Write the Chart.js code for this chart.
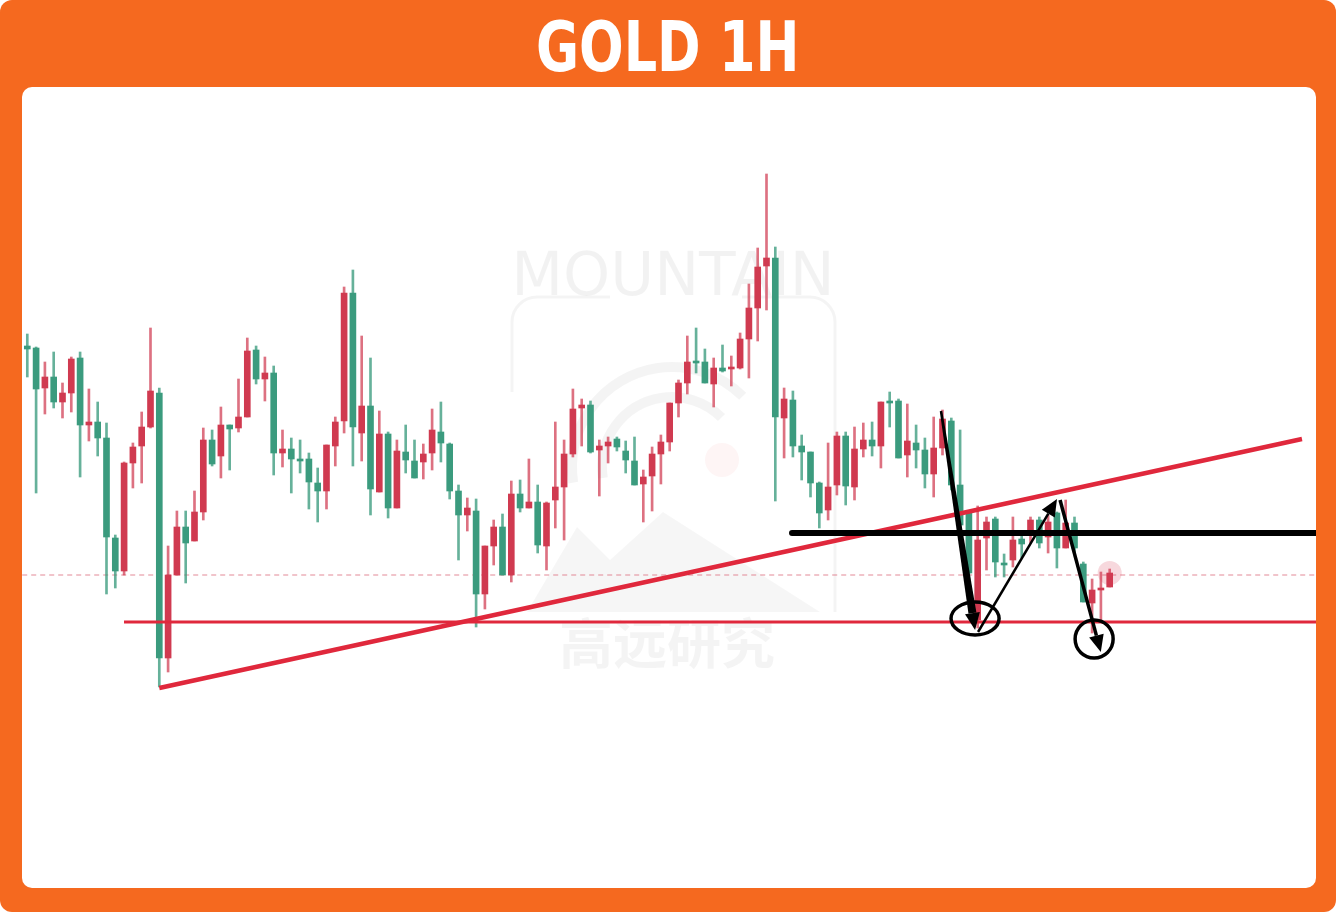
<!DOCTYPE html>
<html><head><meta charset="utf-8">
<script src="https://cdn.jsdelivr.net/npm/chart.js@4.4.0/dist/chart.umd.min.js"></script>
<style>
html,body{margin:0;padding:0;background:#fff;}
#frame{position:absolute;left:0;top:0;width:1336px;height:912px;background:#f5691f;border-radius:12px;}
#title{position:absolute;left:0;top:6px;width:1336px;height:87px;line-height:80px;text-align:center;}
#title span{display:inline-block;color:#fff;font:bold 70px 'DejaVu Sans',sans-serif;transform:scaleX(0.75);transform-origin:center;}
#panel{position:absolute;left:22px;top:87px;width:1294px;height:801px;background:#fff;border-radius:10px;overflow:hidden;}
canvas{display:block;}
</style></head>
<body>
<div id="frame"><div id="title"><span>GOLD 1H</span></div><div id="panel"><canvas id="c" width="1294" height="801"></canvas></div></div>
<script>
// Hourly candles (relative price units)
const opens = [651,611,623,598,607,641,575,578,562,463,429,537,553,573,609,342,425,473,457,488,
560,536,575,571,583,649,621,627,547,551,541,539,518,509,555,578,707,573,594,511,
566,492,549,540,522,546,570,557,509,485,492,406,454,473,425,506,492,498,455,497,
513,546,591,595,548,554,558,553,540,515,523,546,558,597,617,638,637,617,632,629,
633,661,692,733,742,583,601,554,548,517,487,513,564,514,551,560,554,598,597,542,
559,550,526,552,581,515,475,427,460,478,438,435,460,456,480,457,478,452,477,452,
398,410,412,427];
const highs = [666,653,638,648,617,643,648,611,598,577,465,538,557,588,672,612,454,489,489,509,
572,570,593,575,621,662,654,643,634,570,562,560,547,532,555,583,713,730,664,642,
589,568,560,575,560,556,591,598,557,515,502,501,454,480,486,519,520,541,515,498,
578,560,611,601,599,560,563,563,559,563,530,553,565,597,620,664,672,651,642,655,
644,667,716,752,826,753,612,609,565,548,518,557,568,568,573,577,578,598,608,601,
596,575,562,583,590,582,570,489,494,483,483,446,483,465,483,483,485,488,500,483,
438,421,428,431];
const lows = [623,507,586,592,582,588,523,559,544,406,412,425,512,517,572,313,328,425,417,459,
480,534,522,530,568,583,616,599,525,533,507,527,491,478,491,534,567,534,539,485,
508,482,492,527,522,521,530,538,501,440,469,373,391,435,425,418,488,492,447,430,
472,460,543,554,547,504,537,549,527,515,478,489,516,549,583,606,627,617,593,628,
614,631,622,659,690,499,542,543,520,503,472,480,505,495,500,543,544,532,573,542,
523,532,512,503,545,510,470,420,372,430,423,423,433,442,457,452,447,432,452,447,
398,367,380,413];
const closes = [654,652,612,623,598,607,642,575,578,562,462,429,537,554,573,607,342,425,473,459,
488,560,544,575,572,583,650,621,627,547,551,541,541,517,509,554,579,707,567,594,
508,566,492,548,539,538,547,568,556,509,485,489,406,454,473,425,506,492,498,454,
500,513,546,592,595,550,554,561,549,539,516,524,546,558,597,617,638,638,616,632,
631,632,661,692,734,742,582,600,554,548,517,490,515,564,513,551,560,554,598,599,
545,557,550,526,552,579,515,487,380,462,481,437,440,461,468,480,463,487,452,477,
436,397,410,413];

// Drawn levels (price units) and trend line anchors (candle index, price)
const supportLevel = 378;
const dashedLevel = 425;
const resistanceLevel = 467;
const trendStart = {x: 15, y: 312};
const trendEnd = {x: 144.85, y: 561};
const arrowPaths = [
  {from: {x: 103.83, y: 589}, to: {x: 107.70, y: 370}, w0: 2.5, w1: 8},
  {from: {x: 108.04, y: 368}, to: {x: 117.01, y: 501}, w0: 2.5, w1: 2.5},
  {from: {x: 117.36, y: 500}, to: {x: 121.99, y: 348}, w0: 3.5, w1: 3.5}
];
const circles = [
  {x: 107.70, y: 381.5, rx: 2.73, ry: 16.5},
  {x: 121.23, y: 361, rx: 2.16, ry: 19}
];

const X_MIN = -0.602, X_MAX = 146.443, Y_MIN = 112, Y_MAX = 913;
const UP = '#3b9b7e', DOWN = '#d03a50';
const UP_W = 'rgba(59,155,126,0.78)', DOWN_W = 'rgba(208,58,80,0.72)';
const idx = opens.map((_, i) => i);
const isUp = idx.map(i => closes[i] >= opens[i]);

const watermark = {
  id: 'watermark',
  beforeDatasetsDraw(chart) {
    const ctx = chart.ctx;
    ctx.save();
    ctx.fillStyle = 'rgba(0,0,0,0.05)';
    ctx.strokeStyle = 'rgba(0,0,0,0.045)';
    ctx.font = '60px "DejaVu Sans"';
    ctx.textAlign = 'center';
    ctx.textBaseline = 'alphabetic';
    ctx.fillText('MOUNTAIN', 651, 208);
    ctx.lineWidth = 3;
    ctx.beginPath();
    ctx.moveTo(588, 210); ctx.lineTo(515, 210);
    ctx.arcTo(490, 210, 490, 240, 25);
    ctx.lineTo(490, 305);
    ctx.stroke();
    ctx.beginPath();
    ctx.moveTo(720, 210); ctx.lineTo(788, 210);
    ctx.arcTo(813, 210, 813, 240, 25);
    ctx.lineTo(813, 525);
    ctx.stroke();
    ctx.lineWidth = 10;
    for (const r of [70, 100]) {
      ctx.beginPath();
      ctx.arc(650, 380, r, Math.PI * 0.95, Math.PI * 1.75);
      ctx.stroke();
    }
    ctx.fillStyle = 'rgba(235,90,90,0.06)';
    ctx.beginPath(); ctx.arc(700, 373, 17, 0, Math.PI * 2); ctx.fill();
    ctx.fillStyle = 'rgba(0,0,0,0.035)';
    ctx.beginPath();
    ctx.moveTo(505, 525); ctx.lineTo(555, 440); ctx.lineTo(588, 473);
    ctx.lineTo(641, 425); ctx.lineTo(798, 525); ctx.closePath(); ctx.fill();
    ctx.fillStyle = 'rgba(0,0,0,0.045)';
    ctx.font = 'bold 54px "Noto Sans CJK SC"';
    ctx.textBaseline = 'middle';
    ctx.fillText('高远研究', 645, 556);
    ctx.restore();
  }
};

const overlays = {
  id: 'overlays',
  afterDatasetsDraw(chart) {
    const ctx = chart.ctx, xs = chart.scales.x, ys = chart.scales.y;
    const px = p => ({x: xs.getPixelForValue(p.x), y: ys.getPixelForValue(p.y)});
    ctx.save();
    ctx.fillStyle = '#000';
    ctx.strokeStyle = '#000';
    for (const a of arrowPaths) {
      const p0 = px(a.from), p1 = px(a.to);
      const dx = p1.x - p0.x, dy = p1.y - p0.y, L = Math.hypot(dx, dy);
      const ux = dx / L, uy = dy / L, nx = -uy, ny = ux;
      const head = 17, hw = 7.5;
      const bx = p1.x - ux * head, by = p1.y - uy * head;
      ctx.beginPath();
      ctx.moveTo(p0.x + nx * a.w0 / 2, p0.y + ny * a.w0 / 2);
      ctx.lineTo(bx + nx * a.w1 / 2, by + ny * a.w1 / 2);
      ctx.lineTo(bx - nx * a.w1 / 2, by - ny * a.w1 / 2);
      ctx.lineTo(p0.x - nx * a.w0 / 2, p0.y - ny * a.w0 / 2);
      ctx.closePath(); ctx.fill();
      ctx.beginPath();
      ctx.moveTo(p1.x, p1.y);
      ctx.lineTo(bx + nx * hw, by + ny * hw);
      ctx.lineTo(bx - nx * hw, by - ny * hw);
      ctx.closePath(); ctx.fill();
    }
    ctx.lineWidth = 3.5;
    for (const c of circles) {
      const p = px(c);
      const rx = Math.abs(xs.getPixelForValue(c.x + c.rx) - p.x);
      const ry = Math.abs(ys.getPixelForValue(c.y + c.ry) - p.y);
      ctx.beginPath(); ctx.ellipse(p.x, p.y, rx, ry, 0, 0, Math.PI * 2); ctx.stroke();
    }
    ctx.restore();
  }
};

new Chart(document.getElementById('c'), {
  type: 'bar',
  data: {
    datasets: [
      {
        type: 'line', order: 0,
        data: [{x: idx[idx.length - 1], y: opens[opens.length - 1]}],
        showLine: false, pointRadius: 12, pointHoverRadius: 12,
        pointBackgroundColor: 'rgba(215,60,85,0.2)', pointBorderWidth: 0
      },
      {
        type: 'line', order: 1,
        data: [{x: 86.9, y: resistanceLevel}, {x: X_MAX + 1, y: resistanceLevel}],
        borderColor: '#000', borderWidth: 6, borderCapStyle: 'round', pointRadius: 0
      },
      {
        type: 'line', order: 1,
        data: [trendStart, trendEnd],
        borderColor: '#e0283c', borderWidth: 4.5, borderCapStyle: 'butt', pointRadius: 0
      },
      {
        type: 'line', order: 1,
        data: [{x: 10.99, y: supportLevel}, {x: X_MAX + 1, y: supportLevel}],
        borderColor: '#e0283c', borderWidth: 3, pointRadius: 0
      },
      {
        type: 'line', order: 4,
        data: [{x: X_MIN - 1, y: dashedLevel}, {x: X_MAX + 1, y: dashedLevel}],
        borderColor: 'rgba(215,90,110,0.7)', borderWidth: 1.2, borderDash: [5, 4], pointRadius: 0
      },
      {
        order: 2,
        data: idx.map(i => ({x: i, y: [opens[i], closes[i]]})),
        backgroundColor: idx.map(i => isUp[i] ? UP : DOWN),
        barThickness: 6, minBarLength: 2, grouped: false, borderWidth: 0
      },
      {
        order: 3,
        data: idx.map(i => ({x: i, y: [lows[i], highs[i]]})),
        backgroundColor: idx.map(i => isUp[i] ? UP_W : DOWN_W),
        barThickness: 2, grouped: false, borderWidth: 0
      }
    ]
  },
  options: {
    responsive: false, animation: false, devicePixelRatio: 1,
    layout: {padding: 0, autoPadding: false},
    plugins: {legend: {display: false}, tooltip: {enabled: false}},
    scales: {
      x: {type: 'linear', min: X_MIN, max: X_MAX, display: false, offset: false},
      y: {min: Y_MIN, max: Y_MAX, display: false}
    }
  },
  plugins: [watermark, overlays]
});
</script>
</body></html>
